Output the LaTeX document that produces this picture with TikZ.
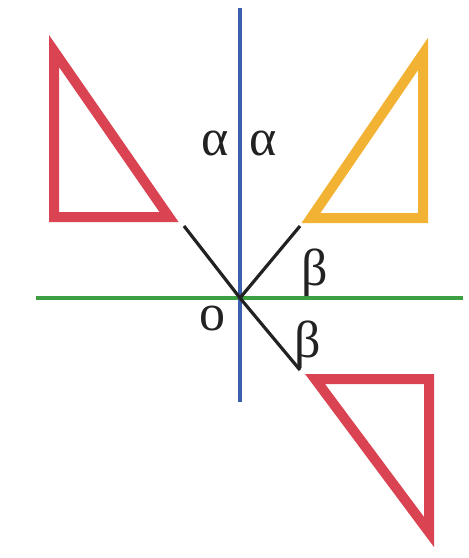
\documentclass[tikz,border=0pt]{standalone}
\usepackage{fontspec}
\setmainfont{Liberation Serif}
\definecolor{tred}{HTML}{DA4452}
\definecolor{tyel}{HTML}{F2B233}
\definecolor{tblue}{HTML}{3C5FAE}
\definecolor{tgreen}{HTML}{3CA043}
\definecolor{tblack}{HTML}{222222}
\begin{document}
\begin{tikzpicture}[x=0.5pt,y=-0.5pt,
  tri/.style={line width=5pt,line join=miter},
  axis/.style={line width=1.6pt},
  ray/.style={line width=1.6pt,draw=tblack},
  lab/.style={inner sep=0pt,font=\fontsize{26}{30}\selectfont,text=tblack}]
\fill[white] (0,0) rectangle (469,558);
\useasboundingbox (0,0) rectangle (469,558);
% axes
\coordinate (vt) at (240,8);
\coordinate (vb) at (240,402);
\coordinate (hl) at (36,298);
\coordinate (hr) at (463,298);
\coordinate (O) at (240,298);
\draw[axis,tgreen,line width=2pt] (hl) -- (hr);
\draw[axis,tblue] (vt) -- (vb);
% rays
\coordinate (ul) at (184,226);
\coordinate (ur) at (300,226);
\coordinate (lr) at (300,370);
\draw[ray] (ul) -- (O);
\draw[ray] (O) -- (ur);
\draw[ray] (O) -- (lr);
% triangles
\draw[tri,tred] (54,51) -- (54,217) -- (169,217) -- cycle;
\draw[tri,tyel] (423,54) -- (423,218) -- (311,218) -- cycle;
\draw[tri,tred] (315,379) -- (429,379) -- (429,532) -- cycle;
% labels
\node[lab] (a1) at (215,143) {α};
\node[lab] (a2) at (263,143) {α};
\node[lab] (o) at (212,318) {o};
\node[lab] (b1) at (315,273) {β};
\node[lab] (b2) at (308,345) {β};
\end{tikzpicture}
\end{document}
